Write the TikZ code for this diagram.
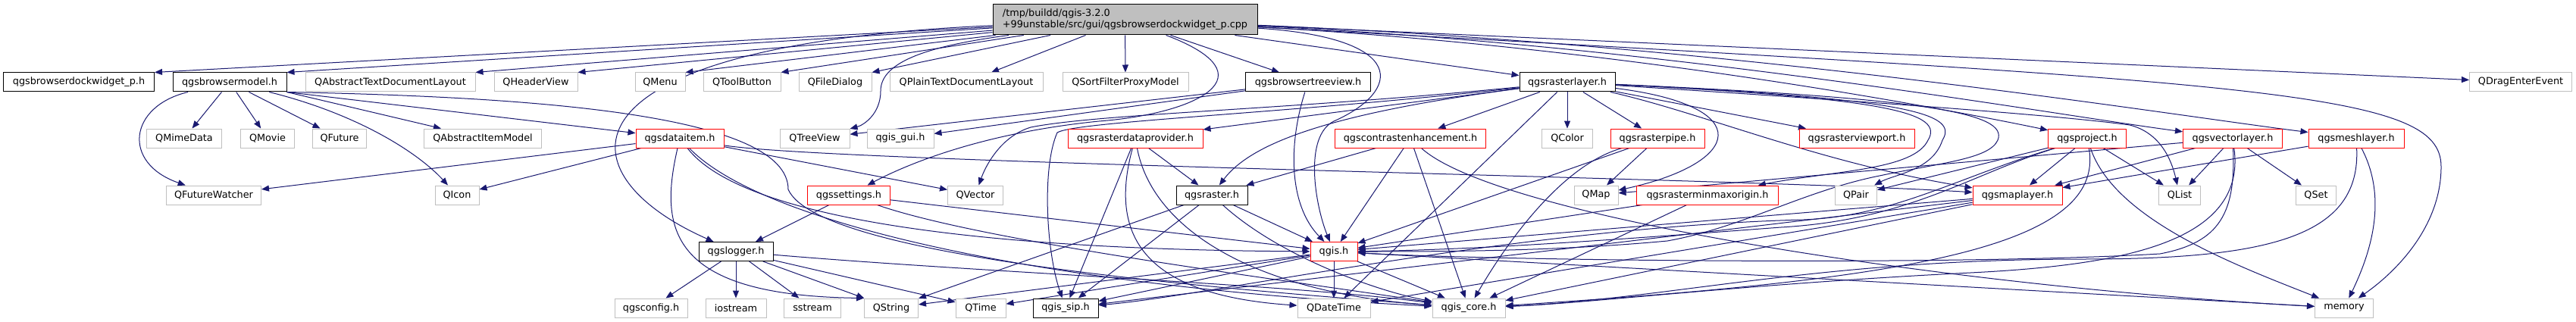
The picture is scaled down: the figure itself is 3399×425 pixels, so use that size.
\documentclass[tikz,border=0pt]{standalone}
\usepackage{fontspec}
\setmainfont{DejaVu Sans}
\usetikzlibrary{arrows.meta,backgrounds}
\definecolor{edgec}{RGB}{25,25,112}
\definecolor{greyb}{RGB}{191,191,191}
\begin{document}
\begin{tikzpicture}[x=1pt,y=1pt,
  font=\fontsize{12.8}{15}\selectfont,
  box/.style={rectangle, minimum height=25pt, inner sep=0pt, line width=1pt, fill=white, text=black},
  gn/.style={box, draw=greyb},
  bn/.style={box, draw=black},
  rn/.style={box, draw=red},
  e/.style={draw=edgec, line width=1pt, -{Triangle[length=10pt,width=8pt]}}]
\useasboundingbox (0,0) rectangle (3399,-425);
% root
\node[draw=black, fill=greyb, line width=1pt, minimum width=349pt, minimum height=40pt, inner sep=0pt, align=left] (R) at (1484.5,-26) {/tmp/buildd/qgis-3.2.0\\+99unstable/src/gui/qgsbrowserdockwidget\_p.cpp};
% row 1
\node[bn, minimum width=199pt] (dockp) at (104,-108.5) {qgsbrowserdockwidget\_p.h};
\node[bn, minimum width=150pt] (bmodel) at (303,-108.5) {qgsbrowsermodel.h};
\node[gn, minimum width=224pt] (qatdl) at (515,-108.5) {QAbstractTextDocumentLayout};
\node[gn, minimum width=110pt] (qheader) at (707,-108.5) {QHeaderView};
\node[gn, minimum width=66pt] (qmenu) at (871,-108.5) {QMenu};
\node[gn, minimum width=102pt] (qtool) at (979,-108.5) {QToolButton};
\node[gn, minimum width=96pt] (qfile) at (1102,-108.5) {QFileDialog};
\node[gn, minimum width=202pt] (qptdl) at (1275,-108.5) {QPlainTextDocumentLayout};
\node[gn, minimum width=166pt] (qsfpm) at (1485,-108.5) {QSortFilterProxyModel};
\node[bn, minimum width=165pt] (btree) at (1726,-108.5) {qgsbrowsertreeview.h};
\node[bn, minimum width=126pt] (rlayer) at (2068,-108.5) {qgsrasterlayer.h};
\node[gn, minimum width=135pt] (qdrag) at (3326,-108.5) {QDragEnterEvent};
% row 2
\node[gn, minimum width=99pt] (qmime) at (243,-182.5) {QMimeData};
\node[gn, minimum width=71pt] (qmovie) at (353,-182.5) {QMovie};
\node[gn, minimum width=71pt] (qfuture) at (448,-182.5) {QFuture};
\node[gn, minimum width=155pt] (qaim) at (637,-182.5) {QAbstractItemModel};
\node[rn, minimum width=116pt] (dataitem) at (897,-182.5) {qgsdataitem.h};
\node[gn, minimum width=92pt] (qtree) at (1075,-182.5) {QTreeView};
\node[gn, minimum width=88pt] (qgisgui) at (1188,-182.5) {qgis\_gui.h};
\node[rn, minimum width=178pt] (rdp) at (1498,-182.5) {qgsrasterdataprovider.h};
\node[rn, minimum width=199pt] (contrast) at (1861,-182.5) {qgscontrastenhancement.h};
\node[gn, minimum width=67pt] (qcolor) at (2068,-182.5) {QColor};
\node[rn, minimum width=124pt] (rpipe) at (2187,-182.5) {qgsrasterpipe.h};
\node[rn, minimum width=152pt] (rview) at (2450,-182.5) {qgsrasterviewport.h};
\node[rn, minimum width=103pt] (project) at (2754,-182.5) {qgsproject.h};
\node[rn, minimum width=131pt] (vlayer) at (2946,-182.5) {qgsvectorlayer.h};
\node[rn, minimum width=126pt] (mlayer) at (3109,-182.5) {qgsmeshlayer.h};
% row 3
\node[gn, minimum width=125pt] (qfw) at (282,-257.5) {QFutureWatcher};
\node[gn, minimum width=58pt] (qicon) at (603,-257.5) {QIcon};
\node[rn, minimum width=109pt] (settings) at (1120,-257.5) {qgssettings.h};
\node[gn, minimum width=73pt] (qvector) at (1287,-257.5) {QVector};
\node[bn, minimum width=94pt] (raster) at (1599,-257.5) {qgsraster.h};
\node[gn, minimum width=58pt] (qmap) at (2106,-257.5) {QMap};
\node[rn, minimum width=187pt] (minmax) at (2253,-257.5) {qgsrasterminmaxorigin.h};
\node[gn, minimum width=55pt] (qpair) at (2449,-257.5) {QPair};
\node[rn, minimum width=118pt] (maplayer) at (2662,-257.5) {qgsmaplayer.h};
\node[gn, minimum width=55pt] (qlist) at (2876,-257.5) {QList};
\node[gn, minimum width=53pt] (qset) at (3056,-257.5) {QSet};
% row 4
\node[bn, minimum width=98pt] (logger) at (971,-332) {qgslogger.h};
\node[rn, minimum width=62pt] (qgis) at (1760,-332) {qgis.h};
% row 5
\node[gn, minimum width=96pt] (config) at (859,-406.5) {qgsconfig.h};
\node[gn, minimum width=80pt] (iostream) at (971,-406.5) {iostream};
\node[gn, minimum width=75pt] (sstream) at (1072,-406.5) {sstream};
\node[gn, minimum width=71pt] (qstring) at (1176,-406.5) {QString};
\node[gn, minimum width=66pt] (qtime) at (1294,-406.5) {QTime};
\node[bn, minimum width=86pt] (sip) at (1406,-406.5) {qgis\_sip.h};
\node[gn, minimum width=96pt] (qdatetime) at (1760,-406.5) {QDateTime};
\node[gn, minimum width=96pt] (core) at (1938,-406.5) {qgis\_core.h};
\node[gn, minimum width=77pt] (memory) at (3093,-406.5) {memory};

\begin{pgfonlayer}{background}
\fill[white] (0,0) rectangle (3399,-425);
% root
\draw[e] (R) -- (dockp.north east);
\draw[e] (R) -- (bmodel.north east);
\draw[e] (R) -- (qatdl.north east);
\draw[e] (R) -- (qheader.north east);
\draw[e] (R) -- (qmenu.north east);
\draw[e] (R) -- (qtool.north east);
\draw[e] (R) -- (qfile.north east);
\draw[e] (R) -- (qptdl);
\draw[e] (R) -- (qsfpm);
\draw[e] (R) -- (btree);
\draw[e] (R) -- (rlayer);
\draw[e] (R) -- (qdrag);
\draw[e] (R) .. controls (720,-60) and (740,-230) .. (logger);
\draw[e] (R) .. controls (1680,-100) and (1580,-150) .. (1450,-160) .. controls (1300,-175) and (1200,-215) .. (settings);
\draw[e] (R) .. controls (3000,-110) and (3221,-120) .. (3221,-220) .. controls (3221,-300) and (3160,-360) .. (memory);
\draw[e] (R) .. controls (1860,-50) and (1850,-120) .. (1760,-160) .. controls (1720,-180) and (1735,-270) .. (qgis);
\draw[e] (R) .. controls (2100,-60) and (2500,-130) .. (project);
\draw[e] (R) .. controls (2200,-60) and (2700,-150) .. (vlayer);
\draw[e] (R) .. controls (2300,-60) and (2850,-150) .. (mlayer);
\draw[e] (R) .. controls (1230,-60) and (1162,-80) .. (1162,-120) .. controls (1162,-150) and (1140,-165) .. (qtree);
% browser model
\draw[e] (bmodel) -- (qmime);
\draw[e] (bmodel) -- (qmovie);
\draw[e] (bmodel) -- (qfuture);
\draw[e] (bmodel.south east) -- (qaim);
\draw[e] (bmodel) .. controls (170,-140) and (160,-215) .. (qfw);
\draw[e] (bmodel) .. controls (470,-150) and (550,-200) .. (qicon);
\draw[e] (bmodel.south east) -- (dataitem);
\draw[e] (bmodel.south east) .. controls (700,-128) and (1040,-150) .. (1040,-250) .. controls (1080,-340) and (1600,-380) .. (core);
% browser tree view
\draw[e] (btree) -- (qtree);
\draw[e] (btree) -- (qgisgui);
\draw[e] (btree) .. controls (1700,-190) and (1700,-270) .. (qgis);
% data item
\draw[e] (dataitem) -- (qfw);
\draw[e] (dataitem) -- (qicon);
\draw[e] (dataitem) -- (qvector);
\draw[e] (dataitem) .. controls (870,-300) and (880,-390) .. (qstring.north west);
\draw[e] (dataitem) .. controls (980,-290) and (1300,-330) .. (qgis);
\draw[e] (dataitem) .. controls (1010,-300) and (1400,-380) .. (core);
\draw[e] (dataitem) .. controls (1100,-215) and (2300,-235) .. (maplayer);
% settings
\draw[e] (settings) -- (logger);
\draw[e] (settings) -- (qgis);
\draw[e] (settings) .. controls (1300,-320) and (1700,-370) .. (core);
% logger
\draw[e] (logger) -- (config);
\draw[e] (logger) -- (iostream);
\draw[e] (logger) -- (sstream);
\draw[e] (logger) -- (qstring);
\draw[e] (logger) -- (qtime);
\draw[e] (logger) .. controls (1300,-360) and (1700,-375) .. (core);
% raster layer
\draw[e] (rlayer) -- (contrast);
\draw[e] (rlayer) -- (qcolor);
\draw[e] (rlayer) -- (rpipe);
\draw[e] (rlayer) -- (rview);
\draw[e] (rlayer) -- (rdp);
\draw[e] (rlayer) -- (qdatetime);
\draw[e] (rlayer) .. controls (1750,-150) and (1650,-190) .. (raster);
\draw[e] (rlayer) .. controls (1700,-145) and (1450,-150) .. (1360,-168) .. controls (1320,-180) and (1300,-220) .. (qvector);
\draw[e] (rlayer) .. controls (1700,-150) and (1420,-160) .. (1395,-175) .. controls (1375,-220) and (1380,-330) .. (sip);
\draw[e] (rlayer) .. controls (2250,-150) and (2400,-215) .. (maplayer);
\draw[e] (rlayer) .. controls (2320,-140) and (2300,-215) .. (qmap);
\draw[e] (rlayer) .. controls (2500,-130) and (2565,-150) .. (2544,-185) .. controls (2525,-225) and (2420,-225) .. (minmax);
\draw[e] (rlayer) .. controls (2520,-130) and (2585,-150) .. (2563,-185) .. controls (2550,-225) and (2500,-230) .. (qpair);
\draw[e] (rlayer) .. controls (2550,-130) and (2650,-150) .. (2636,-185) .. controls (2625,-210) and (2560,-215) .. (2480,-232) .. controls (2380,-252) and (2300,-300) .. (2200,-318) .. controls (2050,-332) and (1900,-332) .. (qgis);
\draw[e] (rlayer) .. controls (2400,-130) and (2700,-150) .. (2810,-165) .. controls (2850,-175) and (2865,-210) .. (qlist);
% raster data provider
\draw[e] (rdp) -- (raster);
\draw[e] (rdp) -- (sip);
\draw[e] (rdp) .. controls (1520,-300) and (1650,-385) .. (core);
\draw[e] (rdp) .. controls (1460,-320) and (1520,-390) .. (qdatetime);
% raster
\draw[e] (raster) -- (qstring);
\draw[e] (raster) -- (sip);
\draw[e] (raster) -- (qgis);
\draw[e] (raster) .. controls (1690,-340) and (1820,-385) .. (core);
% contrast enhancement
\draw[e] (contrast) -- (raster);
\draw[e] (contrast) -- (qgis);
\draw[e] (contrast) -- (core);
\draw[e] (contrast) .. controls (1980,-290) and (2600,-380) .. (memory);
% raster pipe
\draw[e] (rpipe) -- (qmap);
\draw[e] (rpipe) -- (qgis);
\draw[e] (rpipe) .. controls (2070,-215) and (2000,-300) .. (core);
% minmax origin
\draw[e] (minmax) -- (qgis);
\draw[e] (minmax) -- (core);
% map layer
\draw[e] (maplayer) -- (qgis);
\draw[e] (maplayer) -- (core);
\draw[e] (maplayer) -- (sip);
\draw[e] (maplayer) -- (qdatetime);
% project
\draw[e] (project) -- (qpair);
\draw[e] (project) -- (maplayer);
\draw[e] (project) -- (qlist);
\draw[e] (project) .. controls (2790,-290) and (2950,-350) .. (memory);
\draw[e] (project) .. controls (2780,-330) and (2500,-370) .. (core);
\draw[e] (project) .. controls (2600,-230) and (2520,-290) .. (2350,-300) .. controls (2150,-315) and (1950,-330) .. (qgis);
\draw[e] (project) .. controls (2580,-235) and (2500,-285) .. (2380,-290) .. controls (2000,-300) and (1600,-390) .. (sip);
% vector layer
\draw[e] (vlayer) -- (qlist);
\draw[e] (vlayer) -- (qset);
\draw[e] (vlayer) -- (maplayer);
\draw[e] (vlayer) -- (qmap);
\draw[e] (vlayer) .. controls (2950,-280) and (2930,-320) .. (2850,-335) .. controls (2600,-350) and (2000,-345) .. (qgis);
\draw[e] (vlayer) .. controls (2965,-320) and (2800,-350) .. (2600,-360) .. controls (2300,-375) and (2100,-400) .. (core);
% mesh layer
\draw[e] (mlayer) -- (maplayer);
\draw[e] (mlayer) .. controls (3150,-260) and (3130,-330) .. (memory);
\draw[e] (mlayer) .. controls (3115,-310) and (3000,-342) .. (2750,-342) .. controls (2400,-342) and (2200,-395) .. (core);
% qgis.h
\draw[e] (qgis) -- (qdatetime);
\draw[e] (qgis) -- (core);
\draw[e] (qgis) -- (qstring);
\draw[e] (qgis) -- (qtime);
\draw[e] (qgis) -- (sip);
\draw[e] (qgis) -- (memory);
\end{pgfonlayer}
\end{tikzpicture}
\end{document}
